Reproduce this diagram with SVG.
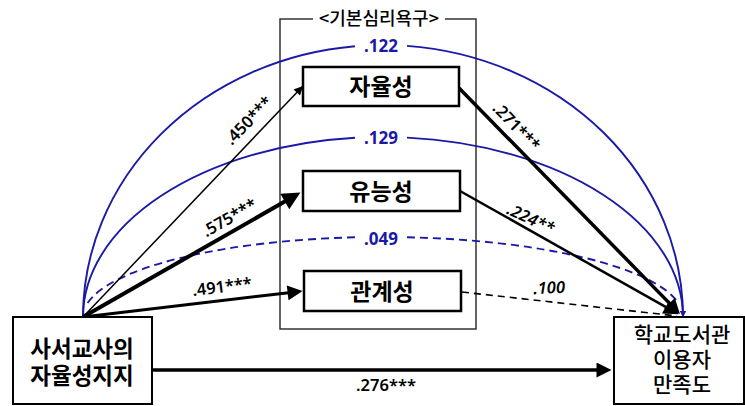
<svg xmlns="http://www.w3.org/2000/svg" width="745" height="406" viewBox="0 0 745 406">
<style>
.box{fill:#fff;stroke:#000;stroke-width:2.5}
.node{fill:#fff;stroke:#000;stroke-width:2}
.kt{font-family:"Noto Sans CJK KR","Noto Sans",sans-serif;fill:#000;text-anchor:middle}
.num{font-family:"Noto Sans","Noto Sans CJK KR",sans-serif;font-size:16.5px;font-weight:600;fill:#000;text-anchor:middle;dominant-baseline:central}
.blue{fill:#1a1aa6;font-weight:bold;font-size:17px}
.arc{fill:none;stroke:#1a1aa6;stroke-width:1.9}
.ln{fill:none;stroke:#000}
</style>
<defs>
<marker id="hs" viewBox="0 0 10 10" refX="10" refY="5" markerUnits="userSpaceOnUse" markerWidth="14" markerHeight="9" orient="auto"><path d="M0,0L10,5L0,10z" fill="#000"/></marker>
<marker id="hb" viewBox="0 0 10 10" refX="5" refY="5" markerUnits="userSpaceOnUse" markerWidth="24" markerHeight="18" orient="auto"><path d="M0,0L10,5L0,10z" fill="#000"/></marker>
<marker id="hm" viewBox="0 0 10 10" refX="5" refY="5" markerUnits="userSpaceOnUse" markerWidth="18" markerHeight="15" orient="auto"><path d="M0,0L10,5L0,10z" fill="#000"/></marker>
<marker id="hblue" viewBox="0 0 10 10" refX="10" refY="5" markerUnits="userSpaceOnUse" markerWidth="8" markerHeight="6" orient="auto"><path d="M0,0L10,5L0,10z" fill="#1a1aa6"/></marker>
</defs>

<g id="group-basic-needs">
<path d="M313,19 H280 V329 H476 V19 H445" fill="none" stroke="#333" stroke-width="1.5"/>
<text class="kt" x="379" y="25" font-size="18" font-weight="500">&lt;기본심리욕구&gt;</text>
</g>

<g id="connectors">
<path class="arc" d="M83,317 A300,272 0 0 1 355,46.2"/>
<path class="arc" d="M407,45.9 A300,272 0 0 1 683,317" marker-end="url(#hblue)"/>
<path class="arc" d="M83,317 A300,180 0 0 1 355,137.8"/>
<path class="arc" d="M407,137.6 A300,180 0 0 1 683,317" marker-end="url(#hblue)"/>
<path class="arc" d="M87.6,303 A300,80 0 0 1 355,237.3" stroke-dasharray="8,5"/>
<path class="arc" d="M407,237.3 A300,80 0 0 1 678.4,303" stroke-dasharray="8,5"/>

<line class="ln" x1="83" y1="317" x2="303" y2="86" stroke-width="1.5" marker-end="url(#hs)"/>
<line class="ln" x1="83" y1="317" x2="292.6" y2="197" stroke-width="4" marker-end="url(#hb)"/>
<line class="ln" x1="83" y1="317" x2="295.1" y2="292" stroke-width="3" marker-end="url(#hm)"/>
<line class="ln" x1="459" y1="88" x2="674.7" y2="308.6" stroke-width="3.5" marker-end="url(#hm)"/>
<line class="ln" x1="460" y1="191" x2="672.2" y2="310.6" stroke-width="2.5" marker-end="url(#hm)"/>
<line class="ln" x1="462" y1="292" x2="677" y2="316" stroke-width="1.6" stroke-dasharray="7,5"/>
<line class="ln" x1="152" y1="370" x2="604" y2="370" stroke-width="3.5" marker-end="url(#hm)"/>

<text class="num blue" x="381" y="45">.122</text>
<text class="num blue" x="381" y="137">.129</text>
<text class="num blue" x="381" y="238">.049</text>
<text class="num" transform="translate(248,120) rotate(-46)">.450***</text>
<text class="num" transform="translate(229,217) rotate(-30)">.575***</text>
<text class="num" transform="translate(222,286) rotate(-7)">.491***</text>
<text class="num" transform="translate(517,126) rotate(46)">.271***</text>
<text class="num" font-style="italic" transform="translate(531,218) rotate(25)">.224**</text>
<text class="num" font-style="italic" transform="translate(549,287) rotate(-3)">.100</text>
<text class="num" x="386" y="384">.276***</text>
</g>

<g id="node-autonomy">
<rect class="box" x="303" y="67" width="156" height="39"/>
<text class="kt" x="381" y="94.5" font-size="23" font-weight="bold">자율성</text>
</g>
<g id="node-competence">
<rect class="box" x="303" y="171" width="157" height="40"/>
<text class="kt" x="381" y="199.5" font-size="23" font-weight="bold">유능성</text>
</g>
<g id="node-relatedness">
<rect class="box" x="304" y="271" width="157" height="40"/>
<text class="kt" x="382" y="299.5" font-size="23" font-weight="bold">관계성</text>
</g>
<g id="node-teacher-support">
<rect class="node" x="13" y="317" width="139" height="87"/>
<text class="kt" font-size="22.5" font-weight="bold"><tspan x="82" y="357">사서교사의</tspan><tspan x="82" y="384">자율성지지</tspan></text>
</g>
<g id="node-satisfaction">
<rect class="node" x="614" y="317" width="130" height="87"/>
<text class="kt" font-size="21" font-weight="500"><tspan x="682" y="342">학교도서관</tspan><tspan x="682" y="367">이용자</tspan><tspan x="682" y="392">만족도</tspan></text>
</g>
</svg>
